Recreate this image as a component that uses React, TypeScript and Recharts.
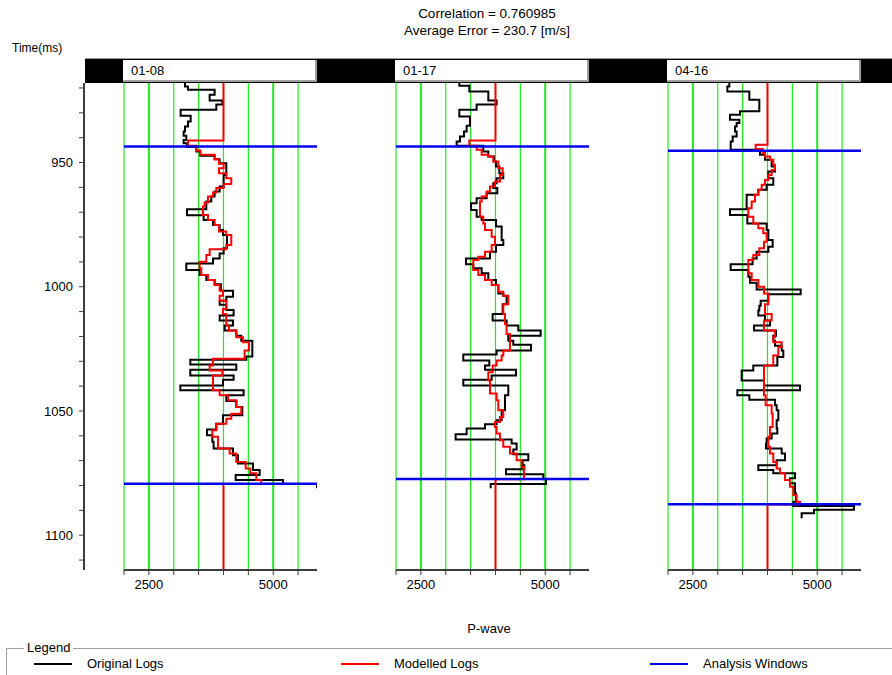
import React from 'react';
import { ComposedChart, Line, XAxis, YAxis, ReferenceLine } from 'recharts';

// time axis (ms), shared by all panels
const timeDomain = [918, 1114];
const timeTicks = [920, 930, 940, 950, 960, 970, 980, 990, 1000, 1010, 1020, 1030, 1040, 1050, 1060, 1070, 1080, 1090, 1100, 1110];
const timeLabels = [950, 1000, 1050, 1100];

// P-wave axis (m/s)
const pwaveDomain = [2000, 5880];
const pwaveTicks = [2000, 2500, 3000, 3500, 4000, 4500, 5000, 5500];
const pwaveLabels = [2500, 5000];

const wells = ['01-08', '01-17', '04-16'];

// [time, velocity] samples
const orig0108 = [
  [918.0, 3226], [919.4, 3286], [920.7, 3822], [922.7, 3722], [925.0, 3977], [926.7, 3856], [928.8, 3139], [931.2, 3340],
  [933.5, 3286], [935.5, 3226], [937.5, 3199], [939.2, 3253], [940.9, 3199], [942.2, 3266], [943.8, 3454], [945.6, 3534],
  [947.3, 3822], [948.7, 3923], [950.3, 4057], [955.0, 4003], [959.7, 3923], [961.7, 3822], [963.7, 3755], [965.7, 3655],
  [968.8, 3266], [971.2, 3601], [973.1, 3789], [975.1, 3923], [977.2, 3990], [979.2, 4070], [984.5, 4003], [986.6, 3923],
  [988.6, 3789], [990.6, 3253], [993.3, 3521], [995.3, 3655], [997.3, 3822], [999.0, 3950], [1001.6, 4191], [1004.0, 4057],
  [1005.6, 3923], [1007.2, 4057], [1009.4, 4204], [1011.6, 3923], [1013.6, 4191], [1015.6, 4023], [1017.6, 4258], [1019.7, 4358],
  [1021.7, 4580], [1028.1, 4459], [1029.4, 3333], [1031.3, 4258], [1033.4, 3333], [1035.7, 4204], [1037.4, 3990], [1039.7, 3132],
  [1041.7, 4405], [1043.7, 4057], [1046.0, 4258], [1048.4, 4379], [1051.7, 3990], [1055.1, 3856], [1057.5, 3668], [1059.8, 3776],
  [1062.4, 3802], [1065.1, 4191], [1067.8, 4291], [1071.1, 4593], [1073.8, 4727], [1075.8, 4245], [1077.8, 5196], [1079.4, 5879],
  [1081.1, 5879],
];
const model0108 = [
  [918.0, 4000], [941.1, 3286], [943.3, 3454], [945.2, 3534], [946.9, 3822], [948.7, 3910], [950.5, 4003], [952.3, 3910],
  [954.3, 4057], [956.3, 4157], [958.6, 4003], [960.3, 3856], [962.1, 3789], [963.7, 3688], [966.1, 3621], [967.7, 3588],
  [971.1, 3688], [973.1, 3822], [975.1, 3910], [977.8, 4057], [979.2, 4157], [983.2, 4057], [984.9, 3722], [987.2, 3655],
  [989.9, 3521], [992.6, 3554], [995.3, 3688], [997.3, 3822], [999.3, 3923], [1001.6, 3990], [1003.6, 3923], [1005.6, 4057],
  [1009.0, 3990], [1011.0, 4057], [1015.6, 4111], [1017.6, 4258], [1020.3, 4392], [1022.3, 4513], [1025.7, 4425], [1029.0, 3789],
  [1031.7, 3722], [1033.7, 3977], [1035.7, 3789], [1041.7, 3923], [1043.7, 4090], [1045.7, 4258], [1048.4, 4358], [1051.1, 4157],
  [1053.1, 4057], [1055.1, 3856], [1057.8, 3776], [1060.4, 3890], [1065.1, 4124], [1067.1, 4258], [1070.5, 4446], [1073.1, 4539],
  [1075.1, 4660], [1077.8, 4760], [1079.4, 4000], [1114, 4000],
];

const orig0117 = [
  [918.0, 3273], [919.1, 3474], [921.4, 3856], [925.0, 4023], [926.7, 3621], [928.8, 3273], [931.5, 3487], [935.2, 3420],
  [937.5, 3367], [939.5, 3286], [941.5, 3219], [943.3, 3755], [945.6, 3856], [947.6, 3970], [949.6, 4010], [951.6, 4077],
  [954.3, 4157], [956.3, 4023], [958.3, 3956], [960.3, 4037], [962.4, 3822], [964.4, 3621], [966.4, 3508], [969.1, 3621],
  [971.8, 3722], [973.1, 4010], [975.8, 4124], [981.2, 4157], [983.2, 4010], [985.9, 3889], [988.6, 3407], [990.9, 3554],
  [992.6, 3722], [994.6, 3856], [997.3, 4010], [999.3, 4057], [1002.7, 4157], [1003.6, 4224], [1007.0, 4144], [1011.0, 3943],
  [1013.6, 4224], [1015.6, 4459], [1017.6, 4908], [1019.7, 4258], [1021.7, 4358], [1023.3, 4714], [1025.7, 4023], [1027.3, 3353],
  [1029.7, 3876], [1031.7, 3789], [1033.4, 4412], [1035.7, 3923], [1037.4, 3353], [1039.7, 4258], [1043.7, 4191], [1049.7, 4124],
  [1053.7, 4023], [1055.3, 3789], [1057.1, 3420], [1059.4, 3199], [1061.5, 4325], [1063.1, 4425], [1065.5, 4358], [1067.4, 4660],
  [1069.8, 4546], [1071.8, 4580], [1073.5, 4211], [1075.5, 4961], [1077.5, 5015], [1079.4, 3903], [1081.1, 3903],
];
const model0117 = [
  [918.0, 4000], [941.1, 3474], [943.3, 3621], [944.9, 3722], [946.9, 3856], [947.6, 3956], [949.6, 4057], [952.3, 4144],
  [955.0, 4090], [957.6, 3990], [959.7, 3889], [961.7, 3822], [963.7, 3722], [965.7, 3688], [971.8, 3755], [974.5, 3789],
  [977.2, 3923], [979.9, 3990], [983.2, 3923], [985.9, 3789], [987.9, 3655], [989.2, 3554], [993.3, 3655], [995.3, 3789],
  [997.3, 3923], [999.3, 4057], [1002.0, 4157], [1003.6, 4258], [1007.0, 4157], [1011.0, 4191], [1015.0, 4224], [1019.0, 4291],
  [1025.7, 4157], [1027.7, 4124], [1029.7, 4023], [1031.7, 3943], [1034.4, 3856], [1037.7, 3889], [1043.0, 4023], [1045.7, 4057],
  [1049.7, 4157], [1052.4, 4090], [1054.4, 3990], [1056.4, 4023], [1059.1, 4090], [1061.8, 4157], [1064.4, 4291], [1067.1, 4425],
  [1069.8, 4526], [1072.5, 4573], [1077.5, 4000], [1114, 4000],
];

const orig0416 = [
  [918.0, 3233], [919.4, 3193], [921.4, 3635], [924.7, 3836], [929.4, 3447], [930.8, 3246], [932.8, 3434], [934.1, 3380],
  [935.5, 3347], [937.5, 3380], [939.5, 3300], [941.5, 3260], [944.9, 3849], [946.9, 3950], [948.9, 4084], [951.6, 4151],
  [953.6, 4017], [956.3, 4117], [959.0, 3983], [961.0, 3816], [963.0, 3581], [968.8, 3246], [971.1, 3595], [974.5, 3983],
  [977.2, 4017], [981.2, 4104], [983.9, 4017], [985.9, 3782], [988.6, 3700], [990.9, 3260], [993.3, 3615], [996.0, 3648],
  [998.4, 3782], [1001.1, 4667], [1003.0, 4017], [1005.6, 3863], [1007.6, 3836], [1009.6, 3816], [1011.6, 3950], [1013.6, 4050],
  [1015.6, 3729], [1017.6, 4171], [1019.7, 4117], [1021.7, 4151], [1023.7, 4285], [1025.7, 4318], [1028.3, 4198], [1031.7, 3715],
  [1033.7, 3481], [1037.7, 3930], [1039.7, 4653], [1041.7, 3394], [1043.7, 3635], [1045.5, 4151], [1047.7, 4184], [1049.7, 4218],
  [1053.7, 4184], [1057.1, 4198], [1059.1, 4084], [1061.1, 3983], [1063.1, 3970], [1065.1, 4285], [1067.1, 4352], [1069.8, 4184],
  [1071.8, 3816], [1073.8, 4117], [1075.1, 4553], [1077.1, 4452], [1079.1, 4553], [1083.2, 4573], [1086.5, 4519], [1088.2, 5739],
  [1089.8, 4935], [1091.2, 4687], [1093.2, 4687],
];
const model0416 = [
  [918.0, 4000], [942.9, 3762], [944.6, 3903], [946.2, 3950], [947.6, 4050], [948.9, 4117], [950.9, 4151], [953.0, 4084],
  [955.0, 4017], [957.0, 3950], [959.0, 3883], [961.0, 3816], [963.0, 3749], [965.7, 3682], [968.4, 3615], [971.8, 3715],
  [974.5, 3816], [976.5, 3916], [978.5, 3983], [981.9, 3930], [984.5, 3836], [987.2, 3715], [989.2, 3615], [994.6, 3682],
  [997.3, 3816], [1000.0, 3930], [1002.7, 4017], [1004.3, 4017], [1007.0, 3950], [1011.0, 4084], [1013.6, 3930], [1017.6, 4151],
  [1020.3, 4117], [1022.3, 4285], [1024.3, 4218], [1027.7, 4117], [1031.7, 3930], [1043.7, 3963], [1047.7, 4084], [1051.1, 4104],
  [1056.4, 4050], [1060.4, 4017], [1064.4, 4050], [1067.1, 4117], [1070.5, 4184], [1073.1, 4251], [1075.1, 4352], [1077.8, 4452],
  [1080.5, 4519], [1083.8, 4586], [1086.5, 4653], [1087.6, 4000], [1114, 4000],
];

// analysis window [top, bottom] per well
const windows = [[943.6, 1079.3], [943.6, 1077.4], [945.3, 1087.5]];

const origLogs = [orig0108, orig0117, orig0416];
const modelLogs = [model0108, model0117, model0416];

const panelLeft = [124, 396, 668];
const panelWidth = 193;
const plotTop = 83;
const plotBottom = 570;
const chartHeight = 620;

const GREEN = '#22ea22';
const AXIS = '#3c3c3c';
const FONT = '"Liberation Sans", Arial, sans-serif';

const toRows = (pts: number[][]) => pts.map(([t, v]) => ({ t, v }));

function WellPanel({ idx }: { idx: number }) {
  const [winTop, winBottom] = windows[idx];
  return (
    <div style={{ position: 'absolute', left: panelLeft[idx] - 10, top: 0 }}>
      <ComposedChart
        width={panelWidth + 20}
        height={chartHeight}
        layout="vertical"
        margin={{ top: plotTop, right: 10, bottom: 0, left: 10 }}
      >
        <XAxis
          type="number"
          domain={pwaveDomain}
          allowDataOverflow
          ticks={pwaveTicks}
          interval={0}
          height={chartHeight - plotBottom}
          tickSize={5}
          tickMargin={5}
          axisLine={{ stroke: AXIS, strokeWidth: 2 }}
          tickLine={{ stroke: AXIS }}
          tick={{ fill: '#000', fontSize: 13, fontFamily: FONT }}
          tickFormatter={(v: number) => (pwaveLabels.includes(v) ? String(v) : '')}
        />
        <YAxis type="number" dataKey="t" domain={timeDomain} allowDataOverflow hide width={0} />
        {pwaveTicks.map((x) => (
          <ReferenceLine key={x} x={x} stroke={GREEN} strokeWidth={pwaveLabels.includes(x) ? 2 : 1.2} />
        ))}
        <Line
          data={toRows(origLogs[idx])}
          dataKey="v"
          type="stepBefore"
          stroke="#000"
          strokeWidth={2}
          dot={false}
          isAnimationActive={false}
        />
        <Line
          data={toRows(modelLogs[idx])}
          dataKey="v"
          type="stepBefore"
          stroke="#ff0000"
          strokeWidth={2}
          dot={false}
          isAnimationActive={false}
        />
        <ReferenceLine y={winTop} stroke="#0000ee" strokeWidth={2.5} />
        <ReferenceLine y={winBottom} stroke="#0000ee" strokeWidth={2.5} />
      </ComposedChart>
    </div>
  );
}

function TimeBackground() {
  return (
    <div style={{ position: 'absolute', left: 0, top: 0 }}>
      <ComposedChart
        width={892}
        height={chartHeight}
        layout="vertical"
        data={timeTicks.map((t) => ({ t }))}
        margin={{ top: plotTop, right: 0, bottom: chartHeight - plotBottom, left: 0 }}
      >
        <XAxis type="number" domain={[0, 1]} hide />
        <YAxis
          type="number"
          dataKey="t"
          domain={timeDomain}
          allowDataOverflow
          ticks={timeTicks}
          interval={0}
          width={84}
          tickSize={5}
          tickMargin={6}
          axisLine={{ stroke: AXIS, strokeWidth: 2 }}
          tickLine={{ stroke: AXIS }}
          tick={{ fill: '#000', fontSize: 13, fontFamily: FONT }}
          tickFormatter={(v: number) => (timeLabels.includes(v) ? String(v) : '')}
        />
        {timeLabels.map((y) => (
          <ReferenceLine key={y} y={y} stroke={GREEN} strokeWidth={1.5} />
        ))}
      </ComposedChart>
    </div>
  );
}

const legendItems = [
  { label: 'Original Logs', color: '#000', x: 34 },
  { label: 'Modelled Logs', color: '#ff0000', x: 341 },
  { label: 'Analysis Windows', color: '#0000ee', x: 650 },
];

export default function App() {
  return (
    <div
      style={{
        position: 'absolute',
        left: 0,
        top: 0,
        width: 892,
        height: 675,
        background: '#fff',
        overflow: 'hidden',
        fontFamily: FONT,
        fontSize: 13,
        color: '#000',
      }}
    >
      <div style={{ position: 'absolute', left: 337, width: 300, top: 6, textAlign: 'center', lineHeight: '16px', fontSize: 13.5 }}>
        Correlation = 0.760985
      </div>
      <div style={{ position: 'absolute', left: 337, width: 300, top: 23, textAlign: 'center', lineHeight: '16px', fontSize: 13.5 }}>
        Average Error = 230.7 [m/s]
      </div>
      <div style={{ position: 'absolute', left: 12, top: 40, lineHeight: '16px', fontSize: 12 }}>Time(ms)</div>

      {/* header strip */}
      <div
        style={{
          position: 'absolute',
          left: 85,
          top: 58,
          width: 807,
          height: 25,
          background: '#000',
          borderTop: '1px solid #9a9a9a',
          boxSizing: 'border-box',
        }}
      />
      {wells.map((w, i) => (
        <div
          key={w}
          style={{
            position: 'absolute',
            left: panelLeft[i] - 1,
            top: 60,
            width: panelWidth + 1,
            height: 22,
            background: '#fff',
            borderRight: '2px solid #a0a0a0',
            borderBottom: '2px solid #a0a0a0',
            boxSizing: 'border-box',
            paddingLeft: 8,
            lineHeight: '21px',
            fontSize: 13,
          }}
        >
          {w}
        </div>
      ))}

      <TimeBackground />
      {wells.map((w, i) => (
        <WellPanel key={w} idx={i} />
      ))}

      <div style={{ position: 'absolute', left: 439, width: 100, top: 621, textAlign: 'center', lineHeight: '16px' }}>
        P-wave
      </div>

      {/* legend group box */}
      <div
        style={{
          position: 'absolute',
          left: 6,
          top: 648,
          width: 900,
          height: 40,
          borderTop: '1px solid #a0a0a0',
          borderLeft: '1px solid #a0a0a0',
          boxShadow: 'inset 1px 1px 0 #fff',
        }}
      />
      <div
        style={{
          position: 'absolute',
          left: 24,
          top: 640,
          padding: '0 3px',
          background: '#fff',
          lineHeight: '16px',
        }}
      >
        Legend
      </div>
      {legendItems.map((it) => (
        <React.Fragment key={it.label}>
          <div style={{ position: 'absolute', left: it.x, top: 663, width: 38, height: 2, background: it.color }} />
          <div style={{ position: 'absolute', left: it.x + 53, top: 656, lineHeight: '16px' }}>{it.label}</div>
        </React.Fragment>
      ))}
    </div>
  );
}
